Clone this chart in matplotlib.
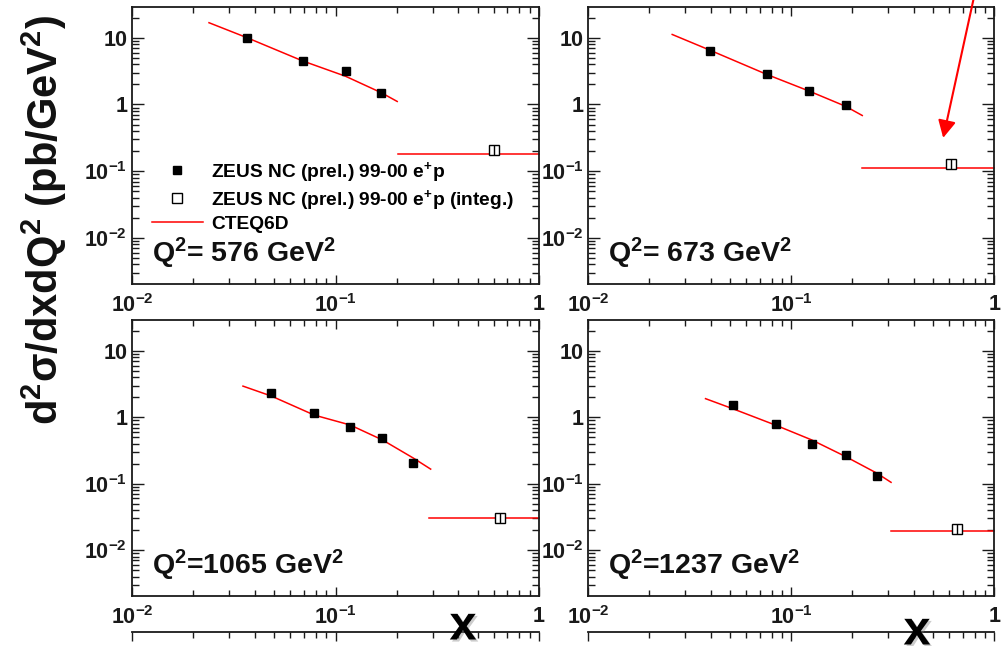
import numpy as np
import matplotlib
matplotlib.use("Agg")
import matplotlib.pyplot as plt
import matplotlib.ticker as mticker
import matplotlib.patheffects as pe

plt.rcParams['font.family'] = ['Liberation Sans', 'DejaVu Sans']
plt.rcParams['font.weight'] = 'bold'
plt.rcParams['mathtext.fontset'] = 'custom'
plt.rcParams['mathtext.rm'] = 'Liberation Sans:bold'
plt.rcParams['mathtext.it'] = 'Liberation Sans'   # thin upright greek
plt.rcParams['mathtext.bf'] = 'Liberation Sans:bold'
plt.rcParams['mathtext.sf'] = 'Liberation Sans:bold'

# Q2 bins
q2_labels = ['Q$^{2}$= 576 GeV$^{2}$', 'Q$^{2}$= 673 GeV$^{2}$',
             'Q$^{2}$=1065 GeV$^{2}$', 'Q$^{2}$=1237 GeV$^{2}$']

# ZEUS NC data points (x, d2sigma/dxdQ2 in pb/GeV2)
x_576 = [0.0368, 0.0689, 0.112, 0.168]
y_576 = [10.0, 4.5, 3.13, 1.5]
x_673 = [0.0398, 0.0762, 0.1217, 0.185]
y_673 = [6.31, 2.85, 1.60, 0.99]
x_1065 = [0.0484, 0.0787, 0.118, 0.170, 0.2415]
y_1065 = [2.34, 1.16, 0.724, 0.495, 0.202]
x_1237 = [0.0514, 0.0840, 0.126, 0.185, 0.263]
y_1237 = [1.51, 0.804, 0.403, 0.275, 0.133]

# integrated high-x bin
xi = [0.603, 0.612, 0.646, 0.652]
yi = [0.205, 0.127, 0.0302, 0.0211]

# CTEQ6D prediction
cx_576 = [0.0239, 0.0368, 0.0689, 0.112, 0.168, 0.201]
cy_576 = [16.8, 10.0, 4.5, 2.65, 1.5, 1.11]
cx_673 = [0.0259, 0.0398, 0.0762, 0.1217, 0.185, 0.2236]
cy_673 = [11.2, 6.5, 2.8, 1.6, 0.94, 0.684]
cx_1065 = [0.0351, 0.0484, 0.0787, 0.118, 0.170, 0.2415, 0.2935]
cy_1065 = [2.95, 2.09, 1.08, 0.767, 0.457, 0.243, 0.166]
cx_1237 = [0.0378, 0.0514, 0.0840, 0.126, 0.185, 0.263, 0.31]
cy_1237 = [1.91, 1.35, 0.759, 0.457, 0.257, 0.145, 0.105]

# CTEQ6D integrated over the last bin
hx_start = [0.203, 0.222, 0.2877, 0.309]
hx_end = [1.0, 1.0, 1.0, 1.0]
hy = [0.182, 0.112, 0.0305, 0.0191]

x_ticks = [0.01, 0.1, 1]
x_ticklabels = [r'$10^{-2}$', r'$10^{-1}$', '1']
y_ticks = [0.01, 0.1, 1, 10]
y_ticklabels = [r'$10^{-2}$', r'$10^{-1}$', '1', '10']

data_x = [x_576, x_673, x_1065, x_1237]
data_y = [y_576, y_673, y_1065, y_1237]
curve_x = [cx_576, cx_673, cx_1065, cx_1237]
curve_y = [cy_576, cy_673, cy_1065, cy_1237]

W, H = 1003, 646
fig = plt.figure(figsize=(W / 100, H / 100), dpi=100)


def frame(ax, labels=True):
    ax.set_xscale('log')
    ax.set_yscale('log')
    ax.set_xlim(0.01, 1)
    ax.set_ylim(0.00204, 29.2)
    ax.xaxis.set_major_locator(mticker.FixedLocator(x_ticks))
    ax.yaxis.set_major_locator(mticker.FixedLocator(y_ticks))
    ax.xaxis.set_minor_locator(mticker.LogLocator(subs=np.arange(2, 10), numticks=20))
    ax.yaxis.set_minor_locator(mticker.LogLocator(subs=np.arange(2, 10), numticks=20))
    ax.xaxis.set_minor_formatter(mticker.NullFormatter())
    ax.yaxis.set_minor_formatter(mticker.NullFormatter())
    if labels:
        ax.xaxis.set_major_formatter(mticker.FixedFormatter(x_ticklabels))
        ax.yaxis.set_major_formatter(mticker.FixedFormatter(y_ticklabels))
    ax.tick_params(which='both', direction='in', top=True, right=True,
                   width=1.0, labelsize=15.5, colors='#1a1a1a')
    ax.tick_params(axis='y', which='major', length=8.5, pad=3.5)
    ax.tick_params(axis='y', which='minor', length=4.8)
    ax.tick_params(axis='x', which='major', length=6.3, pad=7)
    ax.tick_params(axis='x', which='minor', length=4.0)
    for s in ax.spines.values():
        s.set_linewidth(1.3)
        s.set_color('#1a1a1a')


cols = [(132, 407), (588.3, 406)]
rows = [(6.7, 284), (320, 596)]
axes = []
for r, (top, bot) in enumerate(rows):
    for c, (left, w) in enumerate(cols):
        ax = fig.add_axes([left / W, 1 - bot / H, w / W, (bot - top) / H])
        frame(ax)
        axes.append(ax)

# next row of panels, only its top edge falls inside the page
for left, w in cols:
    ax = fig.add_axes([left / W, 1 - 908 / H, w / W, 276.3 / H])
    frame(ax, labels=False)
    ax.tick_params(which='both', labelbottom=False, labelleft=False,
                   left=False, right=False, bottom=False)
    for k in ('left', 'right', 'bottom'):
        ax.spines[k].set_visible(False)

for i, ax in enumerate(axes):
    ax.plot(curve_x[i], curve_y[i], color='red', lw=1.1, zorder=2)
    ax.plot([hx_start[i], hx_end[i]], [hy[i], hy[i]], color='red', lw=1.1,
            zorder=2, clip_on=False)
    ax.plot(data_x[i], data_y[i], 's', color='black', ms=6.3, zorder=3)
    ax.plot([xi[i]], [yi[i]], 's', mfc='white', mec='black', mew=1.0, ms=7,
            zorder=3)
    ax.plot([xi[i]], [yi[i]], '|', color='black', mew=1.0, ms=7, zorder=4)
    ax.text(20 / 407, 22 / 277, q2_labels[i], transform=ax.transAxes,
            fontsize=20.5, ha='left', va='baseline', color='#111111')

# legend in the first panel
h1, = axes[0].plot([], [], 's', color='black', ms=6.3)
h2, = axes[0].plot([], [], 's', mfc='white', mec='black', mew=1.0, ms=7)
h3, = axes[0].plot([], [], color='red', lw=1.1)
axes[0].legend([h1, h2, h3],
               ['ZEUS NC (prel.) 99-00 e$^{+}$p',
                'ZEUS NC (prel.) 99-00 e$^{+}$p (integ.)',
                'CTEQ6D'],
               loc='upper left', bbox_to_anchor=(0.049, 0.447), frameon=False,
               fontsize=13.8, handlelength=2.66, handletextpad=0.42,
               labelspacing=0.2, borderpad=0, borderaxespad=0)

# arrow onto the integrated point at Q2 = 673
axes[1].annotate('', xy=(0.56, 0.316), xytext=(0.80, 45),
                 arrowprops=dict(arrowstyle='-|>,head_length=0.7,head_width=0.36',
                                 color='red', lw=1.5, mutation_scale=15,
                                 shrinkA=0, shrinkB=0),
                 annotation_clip=False)

fig.text(44 / W, 1 - 220 / H,
         r'd$^{2}$$\sigma$/dxdQ$^{2}$ (pb/GeV$^{2}$)',
         rotation=90, ha='center', va='center', fontsize=30, color='#111111')

shadow = [pe.SimplePatchShadow(offset=(1.5, -1.5), shadow_rgbFace='grey', alpha=0.4),
          pe.Normal()]
fig.text(463 / W, 1 - 627 / H, 'x', fontsize=35, ha='center', va='center',
         color='black', path_effects=shadow)
fig.text(917 / W, 1 - 632 / H, 'x', fontsize=35, ha='center', va='center',
         color='black', path_effects=shadow)

fig.savefig('out.png', dpi=100)
